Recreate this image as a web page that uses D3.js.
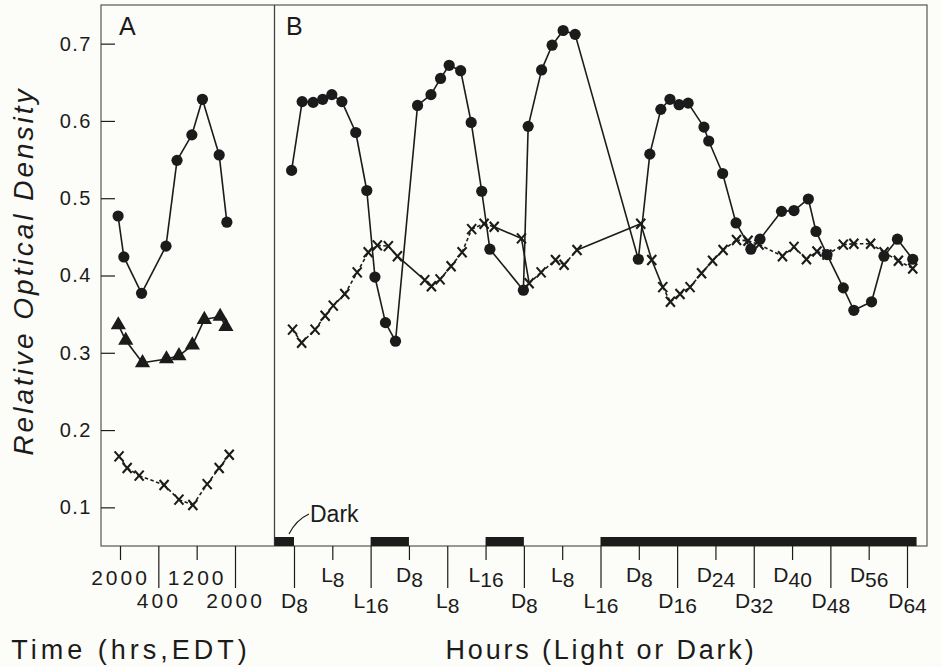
<!DOCTYPE html>
<html>
<head>
<meta charset="utf-8">
<script src="https://cdnjs.cloudflare.com/ajax/libs/d3/7.8.5/d3.min.js"></script>
<style>
  body { margin: 0; background: #fcfcf8; }
  svg { display: block; font-family: "Liberation Sans", Arial, sans-serif; }
</style>
</head>
<body>
<div id="chart"></div>
<script>
// ---- panel A : hours after 2000 EDT ----
var aCircleHrs = [-0.4, 0.8, 4.5, 9.6, 11.9, 15.0, 17.2, 20.7, 22.3];
var aCircleOD  = [0.477, 0.424, 0.377, 0.438, 0.549, 0.582, 0.628, 0.556, 0.469];
var aTriHrs    = [-0.35, 1.2, 4.7, 9.7, 12.3, 15.1, 17.6, 20.9, 22.1];
var aTriOD     = [0.336, 0.316, 0.287, 0.292, 0.296, 0.310, 0.343, 0.347, 0.334];
var aCrossHrs  = [-0.2, 1.5, 4.0, 9.2, 12.3, 15.2, 18.2, 20.7, 22.8];
var aCrossOD   = [0.166, 0.151, 0.141, 0.129, 0.110, 0.103, 0.130, 0.151, 0.168];

var tickHrsA    = [0, 8, 16, 24];
var tickLabelsA = ["2000", "400", "1200", "2000"];

// ---- panel B : hours of light / dark ----
var bCircleHrs = [-0.5, 1.7, 4.0, 6.0, 7.9, 10.0, 12.9, 15.2, 16.9, 19.1, 21.2,
                  25.8, 28.6, 30.6, 32.4, 34.8, 37.0, 39.2, 40.9,
                  47.9, 48.9, 51.7, 53.9, 56.2, 58.7,
                  71.9, 74.3, 76.6, 78.5, 80.4, 82.3, 85.6, 86.6, 89.5, 92.3, 95.4, 97.3,
                  101.8, 104.4, 107.4, 109.0, 111.3, 114.7, 116.9, 120.6, 123.2, 126.0, 129.2];
var bCircleOD  = [0.536, 0.625, 0.624, 0.628, 0.634, 0.625, 0.585, 0.510, 0.398, 0.339, 0.315,
                  0.620, 0.634, 0.655, 0.672, 0.665, 0.598, 0.509, 0.434,
                  0.381, 0.593, 0.666, 0.698, 0.717, 0.712,
                  0.421, 0.557, 0.615, 0.628, 0.621, 0.623, 0.592, 0.574, 0.532, 0.468, 0.434, 0.447,
                  0.483, 0.484, 0.499, 0.457, 0.427, 0.384, 0.355, 0.366, 0.425, 0.447, 0.421];

var bCrossHrs = [-0.3, 1.6, 4.4, 6.5, 8.2, 10.6, 13.2, 15.5, 17.4, 19.7, 21.6,
                 27.3, 28.7, 30.5, 32.8, 35.1, 37.1, 39.7, 41.8,
                 47.5, 49.1, 51.6, 54.6, 56.4, 59.1,
                 72.4, 74.7, 77.0, 78.6, 80.6, 82.7, 85.1, 87.4, 89.6, 92.4, 94.8, 97.1,
                 102.0, 104.4, 107.0, 109.2, 111.3, 114.7, 116.9, 120.4, 123.2, 126.2, 129.2];
var bCrossOD  = [0.330, 0.313, 0.330, 0.348, 0.361, 0.376, 0.404, 0.430, 0.439, 0.438, 0.425,
                 0.394, 0.386, 0.395, 0.412, 0.430, 0.460, 0.467, 0.463,
                 0.448, 0.390, 0.404, 0.420, 0.414, 0.433,
                 0.467, 0.420, 0.385, 0.366, 0.376, 0.385, 0.403, 0.419, 0.433, 0.446, 0.445, 0.440,
                 0.425, 0.437, 0.421, 0.431, 0.427, 0.440, 0.441, 0.441, 0.430, 0.419, 0.409];

var tickHrsB    = d3.range(0, 129, 8);
var tickLabelsB = ["D8", "L8", "L16", "D8", "L8", "L16", "D8", "L8", "L16",
                   "D8", "D16", "D24", "D32", "D40", "D48", "D56", "D64"];

var darkFrom = [-4.2, 16, 40, 64];
var darkTo   = [0, 24, 48, 130];

var yTicks = [0.1, 0.2, 0.3, 0.4, 0.5, 0.6, 0.7];

var ink = "#1b1b1b";

var svg = d3.select("#chart").append("svg")
    .attr("width", 942)
    .attr("height", 667);

// frame edges (window.top is reserved, so prefixed names)
var frameL = 101, frameM = 274.5, frameR = 927, frameT = 5, frameB = 546;

var y  = d3.scaleLinear().domain([0.05, 0.75]).range([frameB, frameT]);
var xA = d3.scaleLinear().domain([0, 24]).range([120, 235]);
var xB = d3.scaleLinear().domain([0, 128]).range([294, 907]);

// frame
svg.append("rect")
    .attr("x", frameL).attr("y", frameT)
    .attr("width", frameR - frameL).attr("height", frameB - frameT)
    .attr("fill", "none").attr("stroke", "#555").attr("stroke-width", 1.2);
svg.append("line")
    .attr("x1", frameM).attr("x2", frameM).attr("y1", frameT).attr("y2", frameB)
    .attr("stroke", "#444").attr("stroke-width", 1.3);

// y axis, ticks pointing inward
var yAxis = svg.append("g")
    .attr("transform", "translate(" + frameL + ",0)")
    .call(d3.axisLeft(y).tickValues(yTicks).tickSize(-14).tickPadding(9).tickFormat(d3.format(".1f")))
    .attr("font-size", null).attr("font-family", null);
yAxis.select(".domain").remove();
yAxis.selectAll(".tick line").attr("stroke", ink).attr("stroke-width", 1.2);
yAxis.selectAll(".tick text")
    .attr("fill", ink).attr("font-size", 20).attr("letter-spacing", 1.5);

// x axis panel A
var gA = svg.append("g")
    .attr("transform", "translate(0," + frameB + ")")
    .call(d3.axisBottom(xA).tickValues(tickHrsA).tickSize(14).tickFormat(""))
    .attr("font-size", null).attr("font-family", null);
gA.select(".domain").remove();
gA.selectAll(".tick line")
    .attr("stroke", ink).attr("stroke-width", 1.2)
    .attr("y2", function(d, i) { return i % 2 ? 42 : 14; });
gA.selectAll(".tick text")
    .text(function(d, i) { return tickLabelsA[i]; })
    .attr("dy", null)
    .attr("y", function(d, i) { return i % 2 ? 62 : 39; })
    .attr("fill", ink).attr("font-size", 21).attr("letter-spacing", 3);

// dark bars
svg.append("g").selectAll("rect")
    .data(darkFrom)
    .join("rect")
    .attr("x", function(d) { return Math.max(xB(d), frameM); })
    .attr("width", function(d, i) { return xB(darkTo[i]) - Math.max(xB(d), frameM); })
    .attr("y", frameB - 9)
    .attr("height", 9)
    .attr("fill", ink);

// x axis panel B
var gB = svg.append("g")
    .attr("transform", "translate(0," + frameB + ")")
    .call(d3.axisBottom(xB).tickValues(tickHrsB).tickSize(14).tickFormat(""))
    .attr("font-size", null).attr("font-family", null);
gB.select(".domain").remove();
gB.selectAll(".tick line")
    .attr("stroke", ink).attr("stroke-width", 1.2)
    .attr("y2", function(d, i) { return i % 2 ? 14 : 42; });
gB.selectAll(".tick text").each(function(d, i) {
    var t = d3.select(this);
    var lab = tickLabelsB[i];
    t.text(null)
        .attr("dy", null)
        .attr("y", i % 2 ? 36 : 62)
        .attr("fill", ink).attr("font-size", 21);
    t.append("tspan").text(lab.charAt(0));
    t.append("tspan").attr("dy", 5).text(lab.slice(1));
});

// series helpers
function drawLine(xs, ys, xScale, dashed) {
    var pts = xs.map(function(h, i) { return [xScale(h), y(ys[i])]; });
    var g = svg.append("g");
    for (var i = 0; i < pts.length - 1; i++) {
        var a = pts[i], b = pts[i + 1];
        var len = Math.hypot(b[0] - a[0], b[1] - a[1]);
        g.append("path")
            .attr("d", d3.line()([a, b]))
            .attr("fill", "none")
            .attr("stroke", ink)
            .attr("stroke-width", 1.6)
            .attr("stroke-dasharray", dashed && len < 28 ? "3.5,2.5" : null);
    }
    return pts;
}

function drawCircles(pts) {
    svg.append("g").selectAll("circle")
        .data(pts)
        .join("circle")
        .attr("cx", function(d) { return d[0]; })
        .attr("cy", function(d) { return d[1]; })
        .attr("r", 5.6)
        .attr("fill", ink);
}

function drawCrosses(pts) {
    svg.append("g").selectAll("path")
        .data(pts)
        .join("path")
        .attr("d", function(d) {
            return "M" + (d[0] - 4.5) + "," + (d[1] - 5) + "L" + (d[0] + 4.5) + "," + (d[1] + 5) +
                   "M" + (d[0] + 4.5) + "," + (d[1] - 5) + "L" + (d[0] - 4.5) + "," + (d[1] + 5);
        })
        .attr("stroke", ink)
        .attr("stroke-width", 2.1)
        .attr("fill", "none");
}

function drawTriangles(pts) {
    svg.append("g").selectAll("path")
        .data(pts)
        .join("path")
        .attr("transform", function(d) { return "translate(" + d[0] + "," + d[1] + ")"; })
        .attr("d", d3.symbol(d3.symbolTriangle, 100))
        .attr("fill", ink);
}

// panel A
drawCircles(drawLine(aCircleHrs, aCircleOD, xA, false));
drawTriangles(drawLine(aTriHrs, aTriOD, xA, false));
drawCrosses(drawLine(aCrossHrs, aCrossOD, xA, true));

// panel B
drawCrosses(drawLine(bCrossHrs, bCrossOD, xB, true));
drawCircles(drawLine(bCircleHrs, bCircleOD, xB, false));

// panel letters
svg.append("text").attr("x", 119).attr("y", 35).attr("font-size", 25).attr("fill", ink).text("A");
svg.append("text").attr("x", 286).attr("y", 35).attr("font-size", 25).attr("fill", ink).text("B");

// Dark annotation
svg.append("text").attr("x", 310).attr("y", 522).attr("font-size", 23).attr("fill", ink).text("Dark");
svg.append("path")
    .attr("d", "M309,514 Q296,520 289,534")
    .attr("fill", "none").attr("stroke", ink).attr("stroke-width", 1.2);

// axis titles
svg.append("text")
    .attr("transform", "translate(33,271) rotate(-90)")
    .attr("text-anchor", "middle")
    .attr("font-size", 28).attr("font-style", "italic").attr("letter-spacing", 3)
    .attr("fill", ink)
    .text("Relative Optical Density");

svg.append("text")
    .attr("x", 131).attr("y", 659)
    .attr("text-anchor", "middle")
    .attr("font-size", 27).attr("letter-spacing", 4)
    .attr("fill", ink)
    .text("Time (hrs,EDT)");

svg.append("text")
    .attr("x", 601).attr("y", 659)
    .attr("text-anchor", "middle")
    .attr("font-size", 27).attr("letter-spacing", 2.8)
    .attr("fill", ink)
    .text("Hours (Light or Dark)");
</script>
</body>
</html>
